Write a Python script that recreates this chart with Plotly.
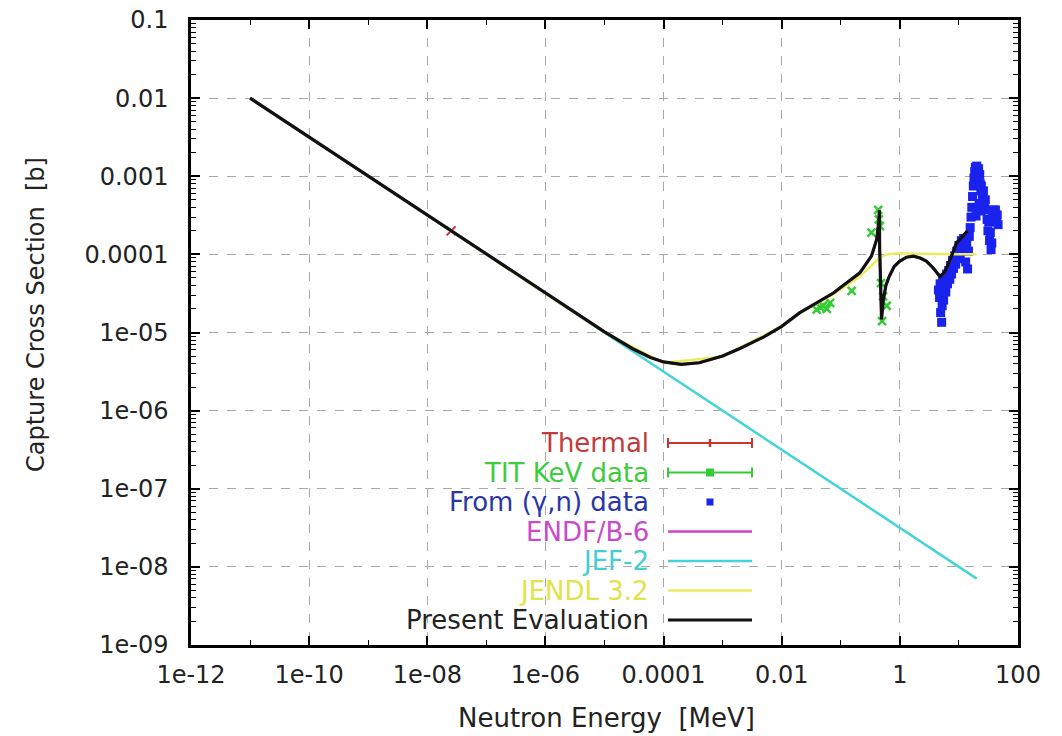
import plotly.graph_objects as go

# ---------------- data ----------------
thermal_E = [2.53e-8]
thermal_sigma = [2.0e-4]

tit_E = [0.039, 0.045, 0.050, 0.058, 0.066, 0.153, 0.33, 0.43, 0.44, 0.46, 0.48, 0.50, 0.52, 0.60]
tit_sigma = [1.96e-5, 2.1e-5, 2.2e-5, 2.0e-5, 2.4e-5, 3.4e-5, 1.9e-4, 3.7e-4, 2.8e-4, 2.3e-4, 4.3e-5, 1.4e-5, 2.9e-5, 2.2e-5]

gn_E = [4.5, 4.7, 4.8, 4.9, 5.0, 5.1, 5.2, 5.3, 5.5, 5.6, 5.8, 6.0, 6.2, 6.4, 6.7, 7.0, 7.2, 7.5,
        7.8, 8.1, 8.4, 8.8, 9.2, 9.6, 10.0, 10.5, 11.0, 11.5, 12.0, 12.5, 13.0, 13.5, 14.0, 14.5,
        15.0, 15.5, 16.0, 16.5, 17.0, 17.5, 18.0, 18.5, 19.0, 19.5, 20.0, 20.5, 21.0, 21.5, 22.0,
        22.5, 23.0, 23.5, 24.0, 25.0, 26.0, 27.0, 28.0, 29.0, 19.5, 20.5, 22.0, 23.5, 30.0, 31.0,
        32.0, 33.0, 34.0, 35.0, 36.0, 37.0, 38.5, 40.0, 41.5, 43.0, 44.5, 46.0]
gn_sigma = [3.5e-5, 2.8e-5, 4.2e-5, 1.8e-5, 3.2e-5, 1.35e-5, 2.2e-5, 4.6e-5, 2.6e-5, 3.8e-5, 5.0e-5,
            3.3e-5, 5.6e-5, 4.2e-5, 6.2e-5, 4.8e-5, 7.2e-5, 5.6e-5, 8.4e-5, 6.6e-5, 9.5e-5, 7.5e-5,
            1.1e-4, 8.8e-5, 1.3e-4, 1.0e-4, 1.5e-4, 1.15e-4, 1.6e-4, 1.25e-4, 8.0e-5, 1.4e-4, 6.5e-5,
            1.1e-4, 1.7e-4, 2.2e-4, 3.0e-4, 4.0e-4, 5.5e-4, 7.5e-4, 9.5e-4, 1.15e-3, 1.3e-3, 1.2e-3,
            1.35e-3, 1.25e-3, 1.1e-3, 1.25e-3, 9.5e-4, 1.05e-3, 8.0e-4, 6.5e-4, 7.5e-4, 5.5e-4, 6.5e-4,
            4.5e-4, 5.0e-4, 3.7e-4, 3.1e-4, 4.0e-4, 4.5e-4, 3.6e-4, 2.8e-4, 2.0e-4, 2.6e-4, 1.5e-4,
            1.9e-4, 1.15e-4, 1.4e-4, 3.0e-4, 3.7e-4, 3.3e-4, 3.7e-4, 2.6e-4, 3.2e-4, 2.4e-4]

present_E = [1e-11, 1e-9, 1e-7, 1e-6, 1e-5, 3e-5, 6e-5, 1e-4, 2e-4, 4e-4, 1e-3, 2e-3, 5e-3, 1e-2,
             2e-2, 7.5e-2, 0.21, 0.33, 0.405, 0.44, 0.45, 0.455, 0.47, 0.49, 0.52, 0.58, 0.66, 0.8,
             1.0, 1.3, 1.7, 2.2, 2.8, 3.6, 4.8, 5.8, 7.1, 9.1, 11.5, 14.0]
present_sigma = [1e-2, 1e-3, 1e-4, 3.16e-5, 1.02e-5, 6.2e-6, 4.8e-6, 4.2e-6, 3.9e-6, 4.1e-6, 5.0e-6,
                 6.3e-6, 8.8e-6, 1.2e-5, 1.78e-5, 3.2e-5, 5.8e-5, 9.5e-5, 1.55e-4, 2.6e-4, 3.7e-4,
                 1.2e-4, 4.0e-5, 1.47e-5, 2.5e-5, 4.0e-5, 5.2e-5, 7.0e-5, 8.2e-5, 9.2e-5, 9.5e-5,
                 9.0e-5, 8.2e-5, 6.8e-5, 5.2e-5, 6.0e-5, 8.6e-5, 1.4e-4, 1.7e-4, 2.0e-4]

endf_E = present_E
endf_sigma = present_sigma

jef_E = [1e-11, 1e-9, 1e-7, 1e-5, 1e-3, 1e-1, 1, 10, 20]
jef_sigma = [1e-2, 1e-3, 1e-4, 1e-5, 1e-6, 1e-7, 3.16e-8, 1e-8, 7.07e-9]

jendl_E = [1e-11, 1e-5, 1e-4, 1e-3, 1e-2, 2e-2, 7.5e-2, 0.21, 0.33, 0.46, 0.6, 1, 2, 5, 10, 20]
jendl_sigma = [1e-2, 1.0e-5, 4.1e-6, 4.9e-6, 1.2e-5, 1.76e-5, 3.1e-5, 5.2e-5, 7.2e-5, 9.1e-5,
               1.0e-4, 1.03e-4, 1.02e-4, 1.0e-4, 1.0e-4, 1.0e-4]

x_tickvals = [1e-12, 1e-10, 1e-8, 1e-6, 1e-4, 1e-2, 1, 100]
x_ticktext = ["1e-12", "1e-10", "1e-08", "1e-06", "0.0001", "0.01", "1", "100"]
y_tickvals = [1e-9, 1e-8, 1e-7, 1e-6, 1e-5, 1e-4, 1e-3, 1e-2, 1e-1]
y_ticktext = ["1e-09", "1e-08", "1e-07", "1e-06", "1e-05", "0.0001", "0.001", "0.01", "0.1"]

legend_labels = ["Thermal", "TIT KeV data", "From (\u03b3,n) data", "ENDF/B-6", "JEF-2", "JENDL 3.2",
                 "Present Evaluation"]

# ---------------- styles ----------------
C_RED = "#cc3333"
C_GREEN = "#33cc33"
C_BLUE = "#1a22ee"
C_MAG = "#cc44cc"
C_CYAN = "#44d4d8"
C_YEL = "#eeea60"
C_BLACK = "#111111"
legend_text_colors = ["#c23a3a", "#3ccc3c", "#2a36a8", "#c84ac8", "#46cdd2", "#e2e24a", "#222222"]

FONT = "DejaVu Sans"

fig = go.Figure()

fig.add_trace(go.Scatter(x=thermal_E, y=thermal_sigma, mode="markers",
                         marker=dict(symbol="x-thin", size=9, line=dict(width=2, color=C_RED), color=C_RED),
                         showlegend=False))
fig.add_trace(go.Scatter(x=tit_E, y=tit_sigma, mode="markers",
                         marker=dict(symbol="x-thin", size=8, line=dict(width=2.5, color=C_GREEN), color=C_GREEN),
                         showlegend=False))
fig.add_trace(go.Scatter(x=gn_E, y=gn_sigma, mode="markers",
                         marker=dict(symbol="square", size=9, color=C_BLUE, line=dict(width=0)),
                         showlegend=False))
fig.add_trace(go.Scatter(x=endf_E, y=endf_sigma, mode="lines", line=dict(color=C_MAG, width=2.5),
                         showlegend=False))
fig.add_trace(go.Scatter(x=jef_E, y=jef_sigma, mode="lines", line=dict(color=C_CYAN, width=2.5),
                         showlegend=False))
fig.add_trace(go.Scatter(x=jendl_E, y=jendl_sigma, mode="lines", line=dict(color=C_YEL, width=2.5),
                         showlegend=False))
fig.add_trace(go.Scatter(x=present_E, y=present_sigma, mode="lines", line=dict(color=C_BLACK, width=3.2),
                         showlegend=False))

# ---------------- axes ----------------
x_minor = [10.0 ** k for k in range(-11, 2, 2)]
y_minor = [m * 10.0 ** k for k in range(-9, -1) for m in range(2, 10)]

fig.update_xaxes(type="log", range=[-12, 2], tickmode="array", tickvals=x_tickvals, ticktext=x_ticktext,
                 ticks="inside", ticklen=9, tickwidth=1.5, tickcolor="black", mirror="ticks",
                 showline=True, linewidth=2.5, linecolor="black",
                 showgrid=True, gridcolor="#a8a8a8", gridwidth=1, griddash="dash",
                 minor=dict(tickmode="array", tickvals=x_minor, ticks="inside", ticklen=5,
                            tickcolor="black", tickwidth=1.2, showgrid=False),
                 tickfont=dict(family=FONT, size=24, color="#222"), ticklabelstandoff=6,
                 zeroline=False, automargin=False)
fig.update_yaxes(type="log", range=[-9, -1], tickmode="array", tickvals=y_tickvals, ticktext=y_ticktext,
                 ticks="inside", ticklen=9, tickwidth=1.5, tickcolor="black", mirror="ticks",
                 showline=True, linewidth=2.5, linecolor="black",
                 showgrid=True, gridcolor="#a8a8a8", gridwidth=1, griddash="dash",
                 minor=dict(tickmode="array", tickvals=y_minor, ticks="inside", ticklen=5,
                            tickcolor="black", tickwidth=1.2, showgrid=False),
                 tickfont=dict(family=FONT, size=24, color="#222"), ticklabelstandoff=15,
                 zeroline=False, automargin=False)

# ---------------- layout ----------------
L, R, T, B = 191, 44, 20, 91
W, H = 1062, 736
PW, PH = W - L - R, H - T - B

def px_x(px):
    return (px - L) / PW

def px_y(py):
    return (H - B - py) / PH

annotations = []
shapes = []
rows = [443, 472.5, 502, 531.5, 561, 590.5, 620]
tx = px_x(651)
sx0, sx1, sxc = px_x(668), px_x(752), px_x(710)
cap = 5 / PH
for i, (lab, col, ry) in enumerate(zip(legend_labels, legend_text_colors, rows)):
    yy = px_y(ry)
    annotations.append(dict(x=tx, y=yy, xref="paper", yref="paper", text=lab, showarrow=False,
                            xanchor="right", yanchor="middle",
                            font=dict(family=FONT, size=26, color=col)))
    if i in (0, 1):
        lc = C_RED if i == 0 else C_GREEN
        shapes.append(dict(type="line", xref="paper", yref="paper", x0=sx0, x1=sx1, y0=yy, y1=yy,
                           line=dict(color=lc, width=2)))
        for xx in (sx0, sx1):
            shapes.append(dict(type="line", xref="paper", yref="paper", x0=xx, x1=xx,
                               y0=yy - cap, y1=yy + cap, line=dict(color=lc, width=2)))
        if i == 0:
            shapes.append(dict(type="line", xref="paper", yref="paper", x0=sxc, x1=sxc,
                               y0=yy - cap * 0.8, y1=yy + cap * 0.8, line=dict(color=lc, width=2.5)))
        else:
            shapes.append(dict(type="rect", xref="paper", yref="paper", x0=sxc - 4 / PW, x1=sxc + 4 / PW,
                               y0=yy - 4 / PH, y1=yy + 4 / PH, fillcolor=lc, line=dict(width=0)))
    elif i == 2:
        shapes.append(dict(type="rect", xref="paper", yref="paper", x0=sxc - 3.5 / PW, x1=sxc + 3.5 / PW,
                           y0=yy - 3.5 / PH, y1=yy + 3.5 / PH, fillcolor=C_BLUE, line=dict(width=0)))
    else:
        lc = [C_MAG, C_CYAN, C_YEL, C_BLACK][i - 3]
        shapes.append(dict(type="line", xref="paper", yref="paper", x0=sx0, x1=sx1, y0=yy, y1=yy,
                           line=dict(color=lc, width=3 if i == 6 else 2.5)))

# axis titles
annotations.append(dict(x=px_x(606), y=px_y(718), xref="paper", yref="paper",
                        text="Neutron Energy \u00a0[MeV]", showarrow=False, xanchor="center",
                        yanchor="middle", font=dict(family=FONT, size=26, color="#222")))
annotations.append(dict(x=px_x(36), y=px_y(315), xref="paper", yref="paper",
                        text="Capture Cross Section \u00a0[b]", showarrow=False, textangle=-90,
                        xanchor="center", yanchor="middle",
                        font=dict(family=FONT, size=24, color="#222")))

fig.update_layout(width=W, height=H, margin=dict(l=L, r=R, t=T, b=B, pad=0, autoexpand=False),
                  plot_bgcolor="white", paper_bgcolor="white", showlegend=False,
                  annotations=annotations, shapes=shapes)

fig.write_html("out.html", config={"displayModeBar": False},
               post_script="document.body.style.margin='0';document.body.style.overflow='hidden';")
